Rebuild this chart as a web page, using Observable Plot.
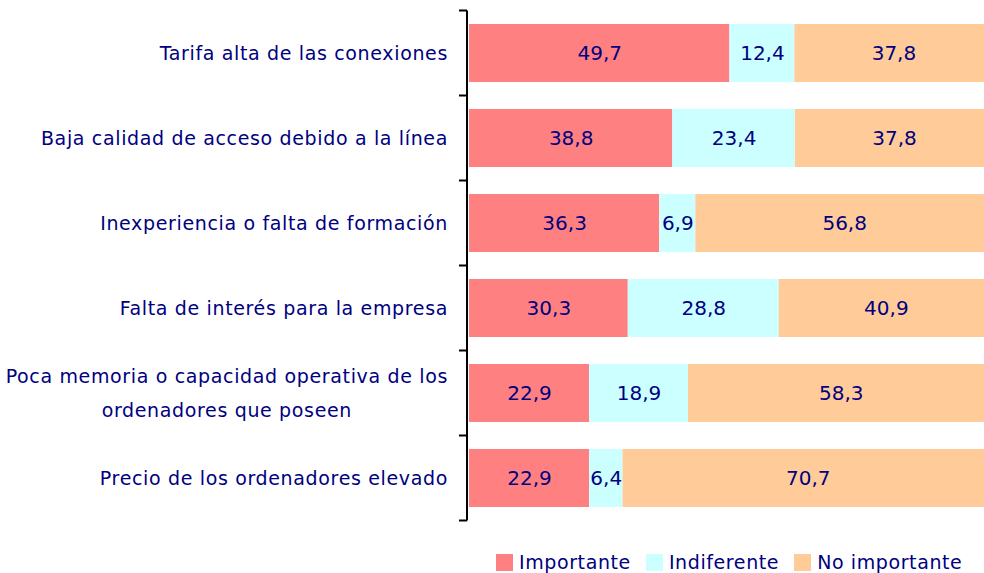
<!DOCTYPE html>
<html>
<head>
<meta charset="utf-8">
<script src="https://cdn.jsdelivr.net/npm/d3@7"></script>
<script src="https://cdn.jsdelivr.net/npm/@observablehq/plot@0.6"></script>
<style>
  html, body { margin: 0; padding: 0; background: #fff; }
  body { width: 984px; height: 573px; overflow: hidden; font-family: "DejaVu Sans", sans-serif; position: relative; }
  #legend { position: absolute; left: 496px; top: 552px; display: flex; align-items: center; font-size: 19px; line-height: 20px; color: #000080; letter-spacing: 0.6px; }
  #legend .item { display: flex; align-items: center; margin-right: 15px; }
  #legend .sw { width: 17px; height: 17px; margin-right: 6px; }
</style>
</head>
<body>
<div id="chart"></div>
<div id="legend"></div>
<script>
const categories = [
  "Tarifa alta de las conexiones",
  "Baja calidad de acceso debido a la línea",
  "Inexperiencia o falta de formación",
  "Falta de interés para la empresa",
  "Poca memoria o capacidad operativa de los\nordenadores que poseen",
  "Precio de los ordenadores elevado"
];
const series = ["Importante", "Indiferente", "No importante"];
const importante = [49.7, 38.8, 36.3, 30.3, 22.9, 22.9];
const indiferente = [12.4, 23.4, 6.9, 28.8, 18.9, 6.4];
const noImportante = [37.8, 37.8, 56.8, 40.9, 58.3, 70.7];
const colors = ["#FF8080", "#CCFFFF", "#FFCC99"];
const textColor = "#000080";

const seriesValues = [importante, indiferente, noImportante];
const rows = [];
categories.forEach((c, i) => {
  series.forEach((s, j) => rows.push({cat: c, series: s, value: seriesValues[j][i]}));
});

const fmt = v => v.toFixed(1).replace(".", ",");

function yAxisMark(index, scales, values, dimensions) {
  const y = scales.y, x = scales.x;
  const step = y.step ? y.step() : (y(categories[1]) - y(categories[0]));
  const bw = y.bandwidth ? y.bandwidth() : step * 0.68;
  const off = (step - bw) / 2;
  const x0 = x(0) - 2;
  const g = d3.create("svg:g");
  const top = y(categories[0]) - off;
  const bottom = y(categories[categories.length - 1]) + bw + off;
  g.append("line").attr("x1", x0).attr("x2", x0).attr("y1", top).attr("y2", bottom)
    .attr("stroke", "#000").attr("stroke-width", 2);
  const bounds = categories.map(c => y(c) - off).concat([bottom]);
  g.selectAll(".tk").data(bounds).join("line")
    .attr("x1", x0 - 8).attr("x2", x0).attr("y1", d => d).attr("y2", d => d)
    .attr("stroke", "#000").attr("stroke-width", 2);
  const canvas = document.createElement("canvas");
  const ctx = canvas.getContext("2d");
  const fs = 19;
  const ls = 0.65;
  ctx.font = fs + "px 'DejaVu Sans'";
  const right = x(0) - 21;
  const lineH = 34;
  categories.forEach(c => {
    const lines = c.split("\n");
    const cy = y(c) + bw / 2;
    const maxW = d3.max(lines, l => ctx.measureText(l).width + l.length * ls);
    const multi = lines.length > 1;
    const t = g.append("text")
      .attr("fill", textColor)
      .attr("font-size", fs)
      .attr("letter-spacing", ls)
      .attr("text-anchor", multi ? "middle" : "end");
    lines.forEach((l, k) => {
      t.append("tspan")
        .attr("x", multi ? right - maxW / 2 : right)
        .attr("y", cy + (k - (lines.length - 1) / 2) * lineH)
        .attr("dy", "0.35em")
        .text(l);
    });
  });
  return g.node();
}

const chart = Plot.plot({
  width: 984,
  height: 545,
  marginTop: 10,
  marginBottom: 25,
  marginLeft: 0,
  marginRight: 0,
  style: {fontFamily: "'DejaVu Sans', sans-serif", background: "#fff"},
  x: {domain: [0, 100], range: [469, 993], axis: null},
  y: {domain: categories, paddingInner: 0.32, paddingOuter: 0.16, axis: null},
  color: {domain: series, range: colors},
  marks: [
    Plot.barX(rows, Plot.stackX({x: "value", y: "cat", fill: "series", order: series})),
    Plot.text(rows, Plot.stackX({x: "value", y: "cat", z: "series", order: series,
      text: d => fmt(d.value), fill: textColor, fontSize: 20})),
    yAxisMark
  ]
});
document.getElementById("chart").appendChild(chart);

const legend = d3.select("#legend");
series.forEach((s, i) => {
  const it = legend.append("div").attr("class", "item");
  it.append("div").attr("class", "sw").style("background", colors[i]);
  it.append("span").text(s);
});
</script>
</body>
</html>
